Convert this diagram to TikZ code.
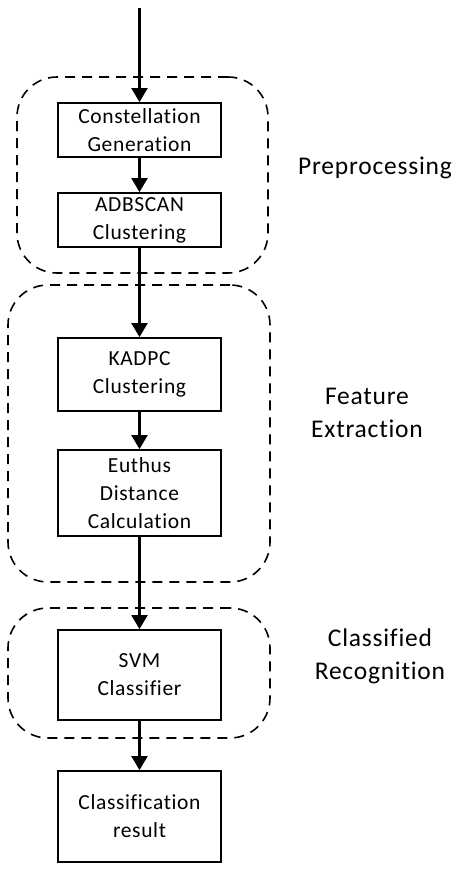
\documentclass[tikz,border=0pt]{standalone}
\usepackage{fontspec}
\setmainfont{Carlito}[LetterSpace=3,Ligatures=NoCommon]
\usetikzlibrary{arrows.meta}
\begin{document}
\begin{tikzpicture}[x=1pt,y=-1pt,
  stepbox/.style={draw,line width=1.8pt,minimum width=163pt,inner sep=0pt,align=center,font=\fontsize{21.5}{28}\selectfont},
  group/.style={draw,dashed,dash pattern=on 10pt off 7pt,line width=1.6pt,rounded corners=40pt,inner sep=0pt},
  lab/.style={align=center,font=\fontsize{25.5}{33}\selectfont},
  flow/.style={line width=2.2pt,-{Triangle[width=16pt,length=14pt]}}]
\useasboundingbox (0,0) rectangle (456,870);
\node[group,minimum width=251pt,minimum height=196pt] (g1) at (142.5,175) {};
\node[group,minimum width=262pt,minimum height=297pt] (g2) at (139,433.5) {};
\node[group,minimum width=262pt,minimum height=130pt] (g3) at (139,673) {};
\coordinate (start) at (139.5,8);
\node[stepbox,minimum height=54pt] (b1) at (139.5,130) {Constellation\\Generation};
\node[stepbox,minimum height=54pt] (b2) at (139.5,220) {ADBSCAN\\Clustering};
\node[stepbox,minimum height=73pt] (b3) at (139.5,374.5) {KADPC\\Clustering};
\node[stepbox,minimum height=86pt] (b4) at (139.5,493) {Euthus\\Distance\\Calculation};
\node[stepbox,minimum height=90pt] (b5) at (139.5,675) {SVM\\Classifier};
\node[stepbox,minimum height=91pt] (b6) at (139.5,816.5) {Classification\\result};
\node[lab] (l1) at (375,168) {Preprocessing};
\node[lab] (l2) at (367,413) {Feature\\Extraction};
\node[lab] (l3) at (380,656) {Classified\\Recognition};
\draw[flow] (start) -- (b1);
\draw[flow] (b1) -- (b2);
\draw[flow] (b2) -- (b3);
\draw[flow] (b3) -- (b4);
\draw[flow] (b4) -- (b5);
\draw[flow] (b5) -- (b6);
\end{tikzpicture}
\end{document}
